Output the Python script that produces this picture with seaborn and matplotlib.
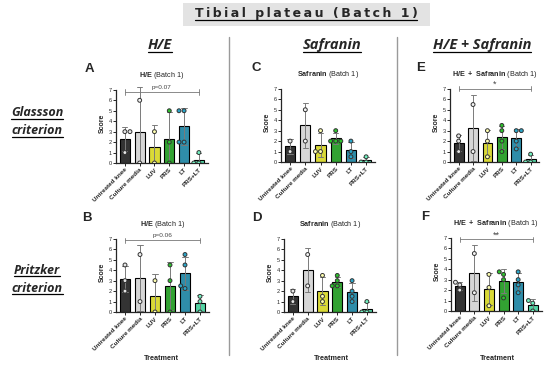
import numpy as np
import pandas as pd
import matplotlib
matplotlib.use('Agg')
import matplotlib.pyplot as plt
import seaborn as sns
from matplotlib.lines import Line2D
from matplotlib.patches import Rectangle

# -- data --
CATEGORIES = ["Untreated knee", "Culture media", "LUV", "PRS", "LT", "PRS+LT"]
BAR_COLORS = ["#333333", "#d6d6d6", "#f4f41c", "#1fb51f", "#1b98bd", "#3ee8a8"]
DOT_COLORS = ["#e6e6e6", "#f4f4f4", "#ffffb0", "#2cc22c", "#2aa6c9", "#6ff2c0"]

# individual scores per group, same order as CATEGORIES
HE_GLASSON = [[3, 3, 1], [6, 0], [3, 0], [5, 2, 0], [5, 5, 2, 2], [1, 0, 0]]
SAF_GLASSON = [[2, 1], [5, 2], [3, 1, 1], [3, 2, 2, 2], [2, 1, 0.5], [0.5, 0, 0]]
HESAF_GLASSON = [[2.5, 2, 1], [5.5, 1], [3, 2, 0.5], [3.5, 3, 2, 1],
                 [3, 3, 2, 1.25], [0.75, 0, 0]]
HE_PRITZKER = [[4.5, 3, 2], [5.5, 1], [3, 0], [4.5, 3, 0],
               [5.5, 4.5, 2.5, 2.25], [1.5, 1, 0]]
SAF_PRITZKER = [[2, 1], [5.5, 2.5], [3.5, 1.5, 1], [3.5, 3, 2.5, 2.5],
                [3, 2, 1.5, 1], [1, 0, 0]]
HESAF_PRITZKER = [[2.75, 2.5, 2], [5.5, 1.75], [3.5, 2.25, 0.5],
                  [3.75, 3.5, 3, 1.25], [3.75, 3, 2.5, 1.75], [1, 0.75, 0]]

BRACKETS = {"A": (6.8, "p=0.07"), "B": (6.85, "p=0.06"),
            "E": (7.0, "*"), "F": (6.85, "**")}

W, H = 550, 365


def fx(px):
    return px / W


def fy(py):
    return 1 - py / H


def to_frame(groups):
    rows = [(cat, v) for cat, vals in zip(CATEGORIES, groups) for v in vals]
    return pd.DataFrame(rows, columns=["group", "score"])


def underlined(fig, renderer, x, y, s, lw=0.9, **kw):
    t = fig.text(fx(x), fy(y), s, ha='center', va='center', **kw)
    bb = t.get_window_extent(renderer)
    x0, x1 = bb.x0 / fig.bbox.width, bb.x1 / fig.bbox.width
    yb = (bb.y0 + 0.5) / fig.bbox.height
    fig.add_artist(Line2D([x0, x1], [yb, yb], transform=fig.transFigure,
                          color='black', lw=lw))
    return t


def draw_panel(fig, groups, left, zero_y, spacing, title, letter, letter_x):
    per_unit = 10.45
    ytop = 7.6
    width = 6.2 * spacing
    ax = fig.add_axes([fx(left), fy(zero_y), width / W, ytop * per_unit / H])
    df = to_frame(groups)

    sns.barplot(data=df, x="group", y="score", order=CATEGORIES, hue="group",
                hue_order=CATEGORIES, palette=BAR_COLORS, errorbar='sd',
                capsize=0.35, width=0.68, edgecolor='black', linewidth=0.8,
                err_kws={'color': '#7a7a7a', 'linewidth': 0.7},
                legend=False, ax=ax)
    n_before = len(ax.collections)
    sns.swarmplot(data=df, x="group", y="score", order=CATEGORIES, hue="group",
                  hue_order=CATEGORIES, palette=DOT_COLORS, size=2.8,
                  edgecolor='#333333', linewidth=0.7, legend=False, ax=ax)
    # pull the swarm a little closer to the bar centre
    for coll in ax.collections[n_before:]:
        off = coll.get_offsets()
        if len(off) == 0:
            continue
        centre = np.round(off[:, 0])
        off[:, 0] = centre + (off[:, 0] - centre) * 0.55
        coll.set_offsets(off)

    ax.set_xlim(-0.6, 5.6)
    ax.set_ylim(0, ytop)
    ax.set_yticks(range(8))
    ax.spines['top'].set_visible(False)
    ax.spines['right'].set_visible(False)
    ax.spines['left'].set_bounds(0, 7)
    for sp in ('left', 'bottom'):
        ax.spines[sp].set_linewidth(0.9)
    ax.tick_params(axis='both', length=2, width=0.7, pad=1)
    ax.tick_params(axis='y', labelsize=4)
    ax.set_xticks(range(6))
    ax.set_xticklabels(CATEGORIES, rotation=45, ha='right',
                       rotation_mode='anchor', fontsize=4.6,
                       fontweight='bold')
    ax.set_xlabel("")
    ax.set_ylabel("Score", fontsize=5, fontweight='bold', labelpad=2)
    ax.set_title(title, fontsize=5.2, pad=0, y=1.0 + 7 / (ytop * per_unit))

    fig.text(fx(letter_x), fy(zero_y - ytop * per_unit - 15), letter,
             fontsize=9.5, fontweight='bold', ha='center', va='center')

    if letter in BRACKETS:
        by, label = BRACKETS[letter]
        ax.plot([0, 5], [by, by], color='#777777', lw=0.6, clip_on=False)
        for xe in (0, 5):
            ax.plot([xe, xe], [by - 0.25, by + 0.25], color='#777777',
                    lw=0.6, clip_on=False)
        fs = 4.6 if label.startswith("p") else 6.5
        dy = 0.2 if label.startswith("p") else 0.0
        ax.text(2.5, by + dy, label, ha='center', va='bottom', fontsize=fs,
                color='#444444')
    return ax


sns.set_theme(style='ticks')
plt.rcParams['font.family'] = ['Liberation Sans', 'DejaVu Sans']
plt.rcParams['mathtext.fontset'] = 'custom'
plt.rcParams['mathtext.rm'] = 'Liberation Sans'
plt.rcParams['mathtext.bf'] = 'Liberation Sans:bold'

fig = plt.figure(figsize=(5.5, 3.65), dpi=100)
fig.patch.set_facecolor('white')
renderer = fig.canvas.get_renderer()

# title box
fig.add_artist(Rectangle((fx(183), fy(26)), 247 / W, 23 / H,
                         transform=fig.transFigure, color='#e3e3e3', lw=0))
underlined(fig, renderer, 306, 14, "\u2009".join("Tibial plateau (Batch 1)"),
           fontsize=9, fontweight='bold', family='DejaVu Sans')

# column headers
hdr = dict(fontsize=10.5, fontweight='bold', style='italic', family='Open Sans')
underlined(fig, renderer, 160, 45, "H/E", **hdr)
underlined(fig, renderer, 332, 45, "Safranin", **hdr)
underlined(fig, renderer, 482, 45, "H/E + Safranin", **hdr)

# row labels
row = dict(fontsize=9, fontweight='bold', style='italic', family='Open Sans')
underlined(fig, renderer, 37, 113, "Glassson", **row)
underlined(fig, renderer, 37, 131, "criterion", **row)
underlined(fig, renderer, 37, 270, "Pritzker", **row)
underlined(fig, renderer, 37, 288, "criterion", **row)

# separators
for xs in (229, 397):
    fig.add_artist(Line2D([fx(xs), fx(xs)], [fy(37), fy(355)],
                          transform=fig.transFigure, color='#9a9a9a', lw=1.0))

# panels
draw_panel(fig, HE_GLASSON, 116, 163, 14.8, r"$\bf{H/E}$ (Batch 1)", "A", 89)
draw_panel(fig, SAF_GLASSON, 281, 162, 15.2, r"$\bf{Safranin}$ (Batch 1)", "C", 256)
draw_panel(fig, HESAF_GLASSON, 450, 162, 14.4,
           r"$\bf{H/E\ +\ Safranin}$ (Batch 1)", "E", 421)
draw_panel(fig, HE_PRITZKER, 116, 312, 15.0, r"$\bf{H/E}$ (Batch 1)", "B", 87)
draw_panel(fig, SAF_PRITZKER, 284, 312, 14.8, r"$\bf{Safranin}$ (Batch 1)", "D", 257)
draw_panel(fig, HESAF_PRITZKER, 451, 311, 14.6,
           r"$\bf{H/E\ +\ Safranin}$ (Batch 1)", "F", 425)

for xt in (161, 331, 497):
    fig.text(fx(xt), fy(359), "Treatment", fontsize=5.2, fontweight='bold',
             ha='center', va='center')

fig.savefig("out.png", dpi=100, facecolor='white')
